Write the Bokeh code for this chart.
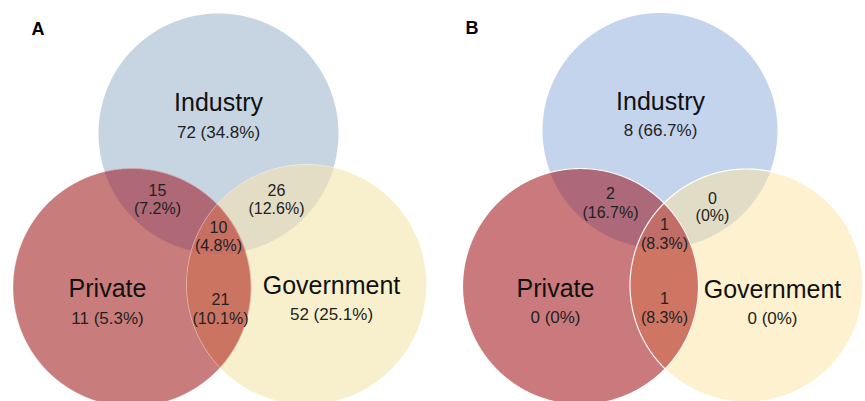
import numpy as np
from bokeh.plotting import figure
from bokeh.models import Range1d, ColumnDataSource
from bokeh.core.properties import value
from bokeh.embed import file_html
from bokeh.resources import INLINE

# ---------------- data ----------------
set_names = ["Industry", "Private", "Government"]
region_keys = ["I", "P", "G", "IP", "IG", "PG", "IPG"]
counts_A = [72, 11, 52, 15, 26, 21, 10]
pcts_A = ["34.8%", "5.3%", "25.1%", "7.2%", "12.6%", "10.1%", "4.8%"]
counts_B = [8, 0, 0, 2, 0, 1, 1]
pcts_B = ["66.7%", "0%", "0%", "16.7%", "0%", "8.3%", "8.3%"]
panel_titles = ["A", "B"]

# ---------------- layout (pixel coordinates of the picture) ----------------
circles_A = {"I": (218, 133, 120), "P": (131.5, 287, 119), "G": (306, 284, 120)}
circles_B = {"I": (659.5, 130, 117.5), "P": (580, 286, 118), "G": (746, 285, 116.5)}

colors_A = {"I": "#c7d5e2", "P": "#c97c7c", "G": "#f8f0cc",
            "IP": "#ae6876", "IG": "#e4ddc5", "PG": "#cc7462", "IPG": "#c66f62"}
colors_B = {"I": "#c5d4ed", "P": "#ca7a7c", "G": "#fdf1cf",
            "IP": "#ad6879", "IG": "#e1dcc6", "PG": "#ce7564", "IPG": "#c26e68"}

# label anchor positions: (x, baseline of line 1, baseline of line 2)
pos_A = {"I": (218, 101, 132), "P": (107, 287, 318), "G": (331, 284, 314),
         "IP": (157, 189, 208), "IG": (276, 189, 208), "PG": (220, 298, 318),
         "IPG": (218, 226, 245)}
pos_B = {"I": (660, 100, 130), "P": (555, 287, 317), "G": (772, 288, 318),
         "IP": (610, 192, 212), "IG": (712, 197, 215), "PG": (664, 297, 317),
         "IPG": (664, 223, 243)}
title_pos = [(31, 28), (465, 27)]

W, H = 865, 401
p = figure(width=W, height=H, x_range=Range1d(0, W), y_range=Range1d(H, 0),
           output_backend="svg", toolbar_location=None, min_border=0)
p.axis.visible = False
p.grid.visible = False
p.outline_line_color = None
p.background_fill_color = "white"
p.border_fill_color = "white"

FONT = value("Liberation Sans")


def circle_pts(c, n=1440):
    t = np.linspace(0, 2 * np.pi, n, endpoint=False)
    return c[0] + c[2] * np.cos(t), c[1] + c[2] * np.sin(t)


def region_poly(circs):
    xs, ys = [], []
    for i, c in enumerate(circs):
        x, y = circle_pts(c)
        keep = np.ones_like(x, dtype=bool)
        for j, d in enumerate(circs):
            if j != i:
                keep &= (x - d[0]) ** 2 + (y - d[1]) ** 2 <= d[2] ** 2 + 1e-6
        xs.append(x[keep]); ys.append(y[keep])
    x = np.concatenate(xs); y = np.concatenate(ys)
    cx, cy = x.mean(), y.mean()
    order = np.argsort(np.arctan2(y - cy, x - cx))
    return list(x[order]), list(y[order])


def draw_panel(circles, colors, counts, pcts, pos, outline_alpha, outline_w):
    xs, ys, cols = [], [], []
    for key in region_keys:
        cx_, cy_ = region_poly([circles[k] for k in key])
        xs.append(cx_); ys.append(cy_); cols.append(colors[key])
    p.patches(xs[:3], ys[:3], fill_color=cols[:3], line_color=None)
    p.patches(xs[3:], ys[3:], fill_color=cols[3:], line_color=cols[3:], line_width=0.5)
    # thin light outlines on the two lower circles
    oxs, oys = [], []
    for k in ["P", "G"]:
        x, y = circle_pts(circles[k])
        oxs.append(list(x) + [x[0]]); oys.append(list(y) + [y[0]])
    p.multi_line(oxs, oys, line_color="white", line_alpha=outline_alpha, line_width=outline_w)

    # labels
    big = dict(x=[], y=[], t=[])
    small1 = dict(x=[], y=[], t=[])
    small2 = dict(x=[], y=[], t=[])
    for i, key in enumerate(region_keys):
        x, b1, b2 = pos[key]
        if len(key) == 1:
            big["x"].append(x); big["y"].append(b1); big["t"].append(set_names["IPG".index(key)])
            small1["x"].append(x); small1["y"].append(b2); small1["t"].append(f"{counts[i]} ({pcts[i]})")
        else:
            small2["x"].append(x); small2["y"].append(b1); small2["t"].append(f"{counts[i]}")
            small2["x"].append(x); small2["y"].append(b2); small2["t"].append(f"({pcts[i]})")
    p.text("x", "y", "t", source=ColumnDataSource(big), text_font=FONT, text_font_size="25px",
           text_align="center", text_baseline="alphabetic", text_color="#111111")
    p.text("x", "y", "t", source=ColumnDataSource(small1), text_font=FONT, text_font_size="17px",
           text_align="center", text_baseline="alphabetic", text_color="#222222")
    p.text("x", "y", "t", source=ColumnDataSource(small2), text_font=FONT, text_font_size="16px",
           text_align="center", text_baseline="alphabetic", text_color="#222222")


draw_panel(circles_A, colors_A, counts_A, pcts_A, pos_A, 0.4, 1.0)
draw_panel(circles_B, colors_B, counts_B, pcts_B, pos_B, 0.95, 1.2)

p.text([t[0] for t in title_pos], [t[1] for t in title_pos], panel_titles,
       text_font=FONT, text_font_size="18px", text_font_style="bold",
       text_align="left", text_baseline="alphabetic", text_color="black")

open("out.html", "w").write(file_html(p, INLINE))
